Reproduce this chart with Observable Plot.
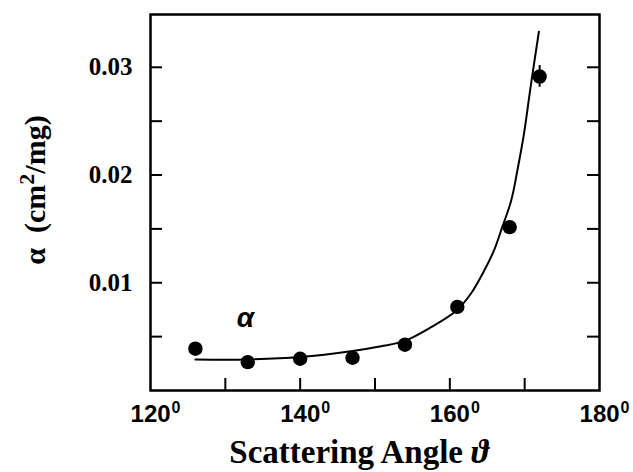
<!DOCTYPE html>
<html>
<head>
<meta charset="utf-8">
<script src="https://cdn.jsdelivr.net/npm/d3@7"></script>
<script src="https://cdn.jsdelivr.net/npm/@observablehq/plot@0.6"></script>
<style>
  html, body { margin: 0; padding: 0; background: #fff; }
  #chart svg { display: block; }
</style>
</head>
<body>
<div id="chart"></div>
<script>
// Measured points
const angles = [126, 133, 140, 147, 154, 161, 168, 172];
const alphaVals = [0.00388, 0.00263, 0.00295, 0.00304, 0.00425, 0.00776, 0.01516, 0.02914];
// Error bar on last point
const errAngle = [172];
const errLow = [0.02815];
const errHigh = [0.03016];
// Fitted curve (traced)
const fitAngles = [126.0, 133.0, 140.0, 147.0, 150.8, 153.9, 157.5, 160.9, 162.8, 164.6, 165.9, 167.0, 168.2, 169.1, 169.9, 170.8, 171.9];
const fitVals = [0.00288, 0.00288, 0.0031, 0.00366, 0.0041, 0.00458, 0.00588, 0.00743, 0.00898, 0.01114, 0.0130, 0.01516, 0.01763, 0.0207, 0.0238, 0.0282, 0.0333];
// Ticks
const xTickLabels = [120, 140, 160, 180];
const xMinorTicks = [130, 140, 150, 160, 170];
const yTickLabels = [0.01, 0.02, 0.03];
const yMinorTicks = [0.005, 0.01, 0.015, 0.02, 0.025, 0.03];
// Annotation
const annX = [132.7];
const annY = [0.0067];
const annText = ["α"];

const pts = angles.map((a, i) => ({x: a, y: alphaVals[i]}));
const fit = fitAngles.map((a, i) => ({x: a, y: fitVals[i]}));
const errs = errAngle.map((a, i) => ({x: a, y1: errLow[i], y2: errHigh[i]}));
const ann = annX.map((a, i) => ({x: a, y: annY[i], t: annText[i]}));

const W = 633, H = 472;
const mL = 150, mR = 34, mT = 14, mB = 82;
const plotW = W - mL - mR, plotH = H - mT - mB;
const tick = 12;

const chart = Plot.plot({
  width: W,
  height: H,
  marginLeft: mL,
  marginRight: mR,
  marginTop: mT,
  marginBottom: mB,
  style: {background: "#fff", color: "#000", overflow: "visible"},
  x: {domain: [120, 180]},
  y: {domain: [0, 0.0349]},
  marks: [
    Plot.frame({stroke: "#000", strokeWidth: 2.5}),
    // inward ticks
    Plot.ruleY(yMinorTicks, {y: d => d, insetRight: plotW - tick, stroke: "#000", strokeWidth: 2}),
    Plot.ruleY(yMinorTicks, {y: d => d, insetLeft: plotW - tick, stroke: "#000", strokeWidth: 2}),
    Plot.ruleX(xMinorTicks, {x: d => d, insetTop: plotH - tick, stroke: "#000", strokeWidth: 2}),
    Plot.axisX(xTickLabels, {
      anchor: "bottom", tickSize: 0, tickPadding: 14, dx: 5,
      tickFormat: d => String(d),
      fontFamily: "Liberation Sans, Arial, sans-serif", fontWeight: "bold", fontSize: 24,
      label: null
    }),
    Plot.axisY(yTickLabels, {
      anchor: "left", tickSize: 0, tickPadding: 18,
      tickFormat: d => d.toFixed(2),
      fontFamily: "Liberation Serif, Times New Roman, serif", fontWeight: "bold", fontSize: 25,
      label: null
    }),
    Plot.line(fit, {x: "x", y: "y", curve: "catmull-rom", stroke: "#000", strokeWidth: 2}),
    Plot.ruleX(errs, {x: "x", y1: "y1", y2: "y2", stroke: "#000", strokeWidth: 2}),
    Plot.dot(pts, {x: "x", y: "y", r: 7.2, fill: "#000", stroke: "none"}),
    Plot.text(ann, {x: "x", y: "y", text: "t", fontFamily: "Liberation Sans, Arial, sans-serif", fontStyle: "italic", fontWeight: "bold", fontSize: 28, fill: "#000"})
  ]
});

const svg = d3.select(chart);
// superscript "0" on x tick labels
svg.selectAll('[aria-label="x-axis tick label"] text').each(function() {
  const t = d3.select(this);
  t.append("tspan").attr("dy", -9).attr("font-size", 16).attr("dx", 1).text("0");
});

// y-axis title
const yl = svg.append("text")
  .attr("transform", "translate(45,190) rotate(-90)")
  .attr("text-anchor", "middle")
  .attr("font-family", "Liberation Serif, Times New Roman, serif")
  .attr("font-weight", "bold")
  .attr("font-size", 30)
  .attr("fill", "#000");
yl.append("tspan").text("α\u00a0\u00a0(cm");
yl.append("tspan").attr("dy", -11).attr("font-size", 22).text("2");
yl.append("tspan").attr("dy", 11).text("/mg)");

// x-axis title
const xl = svg.append("text")
  .attr("x", 359).attr("y", 463)
  .attr("text-anchor", "middle")
  .attr("font-family", "Liberation Serif, Times New Roman, serif")
  .attr("font-weight", "bold")
  .attr("font-size", 33)
  .attr("fill", "#000");
xl.append("tspan").text("Scattering Angle\u00a0");
xl.append("tspan").attr("font-style", "italic").text("ϑ");

document.getElementById("chart").appendChild(chart);
</script>
</body>
</html>
